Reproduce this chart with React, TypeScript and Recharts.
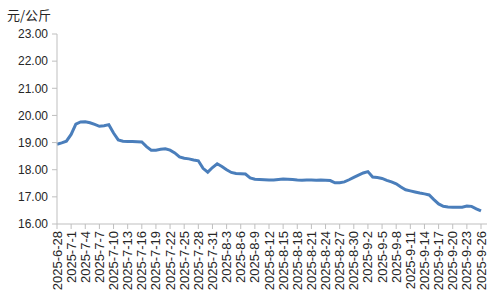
import React from "react";
import { LineChart, Line, XAxis, YAxis } from "recharts";

const dates: string[] = [
  "2025-6-28", "2025-6-29", "2025-6-30",
  "2025-7-1", "2025-7-2", "2025-7-3", "2025-7-4", "2025-7-5", "2025-7-6", "2025-7-7", "2025-7-8", "2025-7-9", "2025-7-10",
  "2025-7-11", "2025-7-12", "2025-7-13", "2025-7-14", "2025-7-15", "2025-7-16", "2025-7-17", "2025-7-18", "2025-7-19", "2025-7-20",
  "2025-7-21", "2025-7-22", "2025-7-23", "2025-7-24", "2025-7-25", "2025-7-26", "2025-7-27", "2025-7-28", "2025-7-29", "2025-7-30", "2025-7-31",
  "2025-8-1", "2025-8-2", "2025-8-3", "2025-8-4", "2025-8-5", "2025-8-6", "2025-8-7", "2025-8-8", "2025-8-9", "2025-8-10",
  "2025-8-11", "2025-8-12", "2025-8-13", "2025-8-14", "2025-8-15", "2025-8-16", "2025-8-17", "2025-8-18", "2025-8-19", "2025-8-20",
  "2025-8-21", "2025-8-22", "2025-8-23", "2025-8-24", "2025-8-25", "2025-8-26", "2025-8-27", "2025-8-28", "2025-8-29", "2025-8-30", "2025-8-31",
  "2025-9-1", "2025-9-2", "2025-9-3", "2025-9-4", "2025-9-5", "2025-9-6", "2025-9-7", "2025-9-8", "2025-9-9", "2025-9-10",
  "2025-9-11", "2025-9-12", "2025-9-13", "2025-9-14", "2025-9-15", "2025-9-16", "2025-9-17", "2025-9-18", "2025-9-19", "2025-9-20",
  "2025-9-21", "2025-9-22", "2025-9-23", "2025-9-24", "2025-9-25", "2025-9-26",
];

const prices: number[] = [
  18.94, 18.99, 19.05,
  19.30, 19.68, 19.76, 19.77, 19.73, 19.67, 19.60, 19.62, 19.66, 19.35,
  19.10, 19.05, 19.04, 19.04, 19.03, 19.02, 18.85, 18.72, 18.72, 18.75,
  18.77, 18.72, 18.62, 18.47, 18.42, 18.40, 18.36, 18.33, 18.05, 17.91, 18.08,
  18.22, 18.12, 18.00, 17.90, 17.86, 17.85, 17.84, 17.70, 17.65, 17.64,
  17.63, 17.62, 17.62, 17.64, 17.66, 17.65, 17.64, 17.62, 17.61, 17.62,
  17.62, 17.61, 17.62, 17.61, 17.60, 17.52, 17.52, 17.55, 17.63, 17.72, 17.80,
  17.88, 17.93, 17.73, 17.71, 17.68, 17.61, 17.55, 17.48, 17.36, 17.26,
  17.22, 17.18, 17.14, 17.11, 17.07, 16.90, 16.74, 16.65, 16.63, 16.62,
  16.62, 16.62, 16.66, 16.65, 16.56, 16.48,
];

const yTicks: number[] = [16, 17, 18, 19, 20, 21, 22, 23];
const unitLabel = "元/公斤";

const data = dates.map((d, i) => ({ date: d, price: prices[i] }));

const FONT = "'Liberation Sans', Arial, sans-serif";
const TEXT = "#262626";
const AXIS = "#bfbfbf";

const XTick = (props: any) => {
  const { x, y, payload } = props;
  return (
    <text
      x={x}
      y={y}
      transform={`rotate(-90 ${x} ${y})`}
      textAnchor="end"
      dy="0.35em"
      fontSize={13}
      fontFamily={FONT}
      fill={TEXT}
    >
      {payload.value}
    </text>
  );
};

export default function App() {
  return (
    <div style={{ position: "absolute", left: 0, top: 0, width: 500, height: 300, background: "#fff" }}>
      <div
        style={{
          position: "absolute",
          left: 7,
          top: 6,
          fontSize: 13,
          fontFamily: "'Noto Sans CJK SC', sans-serif",
          color: TEXT,
          lineHeight: "18px",
        }}
      >
        {unitLabel}
      </div>
      <LineChart
        width={500}
        height={300}
        data={data}
        margin={{ top: 34, right: 13, bottom: 0, left: 0 }}
      >
        <XAxis
          dataKey="date"
          interval={2}
          height={76}
          tick={<XTick />}
          tickSize={5}
          tickMargin={2}
          stroke={AXIS}
          tickLine={{ stroke: AXIS }}
          padding={{ left: 0, right: 6 }}
        />
        <YAxis
          width={57}
          domain={[16, 23]}
          ticks={yTicks}
          interval={0}
          tickFormatter={(v: number) => v.toFixed(2)}
          tickSize={5}
          tickMargin={4}
          stroke={AXIS}
          tickLine={{ stroke: AXIS }}
          tick={{ fontSize: 12, fontFamily: FONT, fill: TEXT }}
        />
        <Line
          type="linear"
          dataKey="price"
          stroke="#4a7ebb"
          strokeWidth={3}
          dot={false}
          isAnimationActive={false}
        />
      </LineChart>
    </div>
  );
}
